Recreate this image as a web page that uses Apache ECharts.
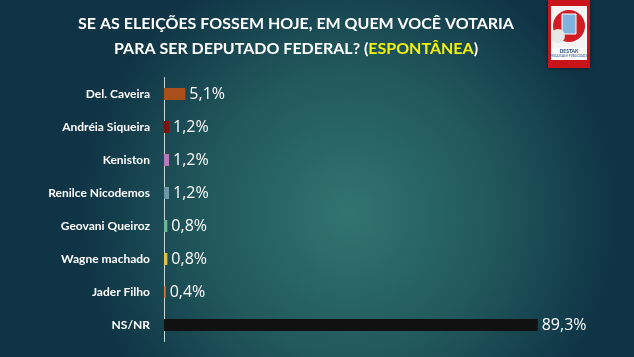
<!DOCTYPE html>
<html>
<head>
<meta charset="utf-8">
<script src="https://cdn.jsdelivr.net/npm/echarts@6/dist/echarts.min.js"></script>
<style>
html,body{margin:0;padding:0;width:634px;height:357px;overflow:hidden;}
#c{width:634px;height:357px;}
</style>
</head>
<body>
<div id="c"></div>
<script>
const categories = ["Del. Caveira", "Andréia Siqueira", "Keniston", "Renilce Nicodemos", "Geovani Queiroz", "Wagne machado", "Jader Filho", "NS/NR"];
const values = [5.1, 1.2, 1.2, 1.2, 0.8, 0.8, 0.4, 89.3];
const valueLabels = ["5,1%", "1,2%", "1,2%", "1,2%", "0,8%", "0,8%", "0,4%", "89,3%"];
const barColors = ["#a9501a", "#7a1414", "#b47ab8", "#6e98a6", "#6fb49a", "#e2c244", "#d8763e", "#111111"];

const chart = echarts.init(document.getElementById('c'), null, {renderer: 'canvas'});
chart.setOption({
  backgroundColor: {
    type: 'radial', x: 0.55, y: 0.6, r: 0.75,
    colorStops: [
      {offset: 0, color: '#317570'},
      {offset: 0.55, color: '#21585c'},
      {offset: 1, color: '#0f3446'}
    ]
  },
  animation: false,
  title: {
    text: 'SE AS ELEIÇÕES FOSSEM HOJE, EM QUEM VOCÊ VOTARIA\nPARA SER DEPUTADO FEDERAL? ({y|ESPONTÂNEA})',
    left: 291, top: 6, textAlign: 'center',
    textStyle: {
      color: '#ffffff', fontFamily: 'Lato', fontWeight: 'bold', fontSize: 16, lineHeight: 25,
      rich: { y: {color: '#f2f20a', fontFamily: 'Lato', fontWeight: 'bold', fontSize: 16, lineHeight: 25} }
    }
  },
  graphic: [
    {type: 'rect', shape: {x: 548, y: -2, width: 42, height: 70}, style: {fill: '#c8141a', shadowBlur: 4, shadowColor: 'rgba(0,0,0,0.5)'}},
    {type: 'rect', shape: {x: 551, y: 6, width: 36, height: 44}, style: {fill: '#f4f4f4'}},
    {type: 'circle', shape: {cx: 569, cy: 26, r: 16}, style: {fill: '#d01c22'}},
    {type: 'rect', shape: {x: 562, y: 14, width: 14, height: 20}, style: {fill: '#7fb2dd', stroke: '#ffffff', lineWidth: 1}},
    {type: 'circle', shape: {cx: 558, cy: 36, r: 7}, style: {fill: '#e6e6e6'}},
    {type: 'rect', shape: {x: 551, y: 48, width: 36, height: 12}, style: {fill: '#ffffff'}},
    {type: 'text', style: {text: 'DESTAK', x: 569, y: 49, fill: '#1a3d7a', font: 'bold 5px Lato', align: 'center'}},
    {type: 'text', style: {text: 'PESQUISAS E PUBLICIDADE', x: 569, y: 55, fill: '#1a3d7a', font: '3px Lato', align: 'center'}}
  ],
  grid: {left: 164, top: 77.5, width: 418.5, height: 264, containLabel: false},
  xAxis: {
    type: 'value', min: 0, max: 100, show: false
  },
  yAxis: {
    type: 'category', data: categories, inverse: true,
    axisLine: {show: true, lineStyle: {color: '#c9d6d8', width: 1}},
    axisTick: {show: false},
    axisLabel: {color: '#ffffff', fontFamily: 'Lato', fontWeight: 'bold', fontSize: 12, margin: 14}
  },
  series: [{
    type: 'bar',
    data: values.map((v, i) => ({value: v, itemStyle: {color: barColors[i]}})),
    barWidth: 12,
    label: {
      show: true, position: 'right', distance: 4,
      color: '#ffffff', fontFamily: 'Open Sans', fontSize: 16,
      formatter: p => valueLabels[p.dataIndex]
    }
  }]
});
</script>
</body>
</html>
